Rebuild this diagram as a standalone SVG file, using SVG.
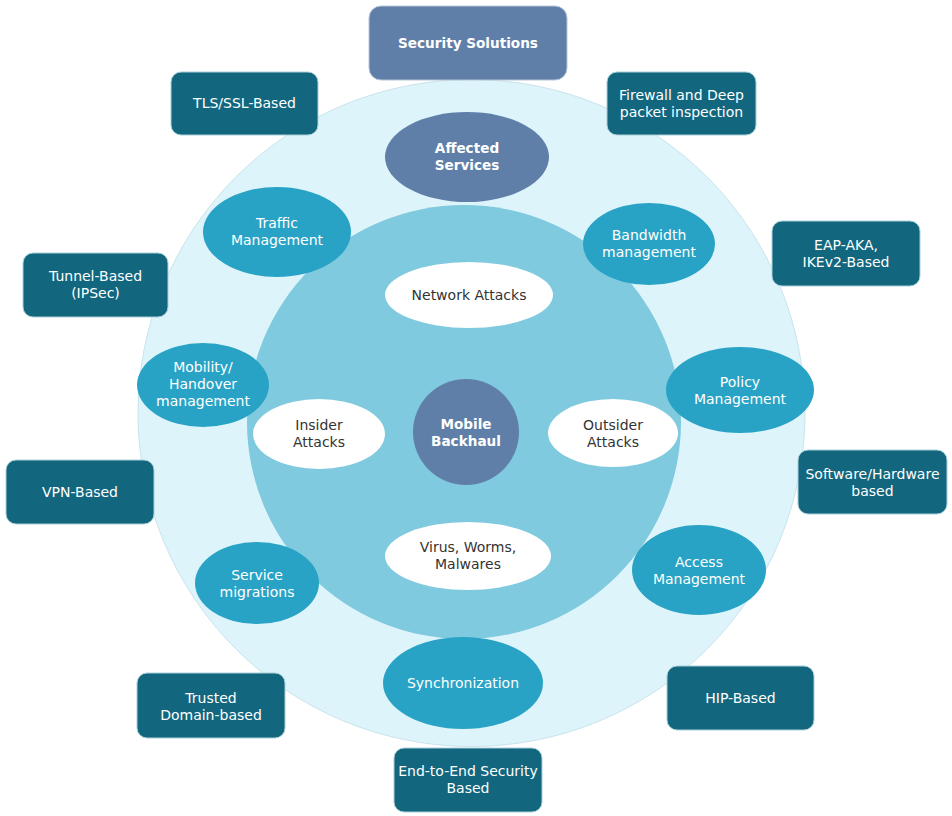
<svg xmlns="http://www.w3.org/2000/svg" width="952" height="816" viewBox="0 0 952 816">
<style>
text{font-family:"DejaVu Sans","Verdana",sans-serif;font-size:14px;text-anchor:middle}
.w{fill:#ffffff}
.d{fill:#333333}
.b{font-weight:bold;font-size:13.6px}
.box{fill:#12677f;stroke:#a9cfd9;stroke-width:1}
.slate{fill:#5f7fa9}
.mid{fill:#29a3c5}
.att{fill:#ffffff}
</style>
<rect width="952" height="816" fill="#ffffff"/>
<g id="rings">
<circle cx="471.5" cy="413" r="333.5" fill="#def4fb" stroke="#c9e3ec" stroke-width="1"/>
<circle cx="464" cy="422" r="217" fill="#7fcade"/>
</g>
<g id="connectors"></g>
<g id="security-solutions"><rect x="369" y="6" width="198" height="74" rx="12" class="slate" stroke="#b7c6d8"/><text x="468" y="48" class="w b">Security Solutions</text></g>
<g id="affected-services"><ellipse cx="467" cy="157" rx="82" ry="45" class="slate"/><text x="467" y="153" class="w b">Affected</text><text x="467" y="170" class="w b">Services</text></g>
<g id="tls"><rect x="171" y="72" width="147" height="63" rx="10" class="box"/><text x="244.5" y="108" class="w">TLS/SSL-Based</text></g>
<g id="firewall"><rect x="607" y="72" width="149" height="63" rx="10" class="box"/><text x="681.5" y="100" class="w">Firewall and Deep</text><text x="681.5" y="117" class="w">packet inspection</text></g>
<g id="traffic"><ellipse cx="277" cy="232" rx="74" ry="45" class="mid"/><text x="277" y="228" class="w">Traffic</text><text x="277" y="245" class="w">Management</text></g>
<g id="bandwidth"><ellipse cx="649" cy="244" rx="66" ry="41" class="mid"/><text x="649" y="240" class="w">Bandwidth</text><text x="649" y="257" class="w">management</text></g>
<g id="eap"><rect x="772" y="221" width="148" height="65" rx="10" class="box"/><text x="846" y="250" class="w">EAP-AKA,</text><text x="846" y="267" class="w">IKEv2-Based</text></g>
<g id="tunnel"><rect x="23" y="253" width="145" height="64" rx="10" class="box"/><text x="95.5" y="281" class="w">Tunnel-Based</text><text x="95.5" y="298" class="w">(IPSec)</text></g>
<g id="network-attacks"><ellipse cx="469" cy="295" rx="84" ry="33" class="att"/><text x="469" y="300" class="d">Network Attacks</text></g>
<g id="mobility"><ellipse cx="203" cy="385" rx="66" ry="42" class="mid"/><text x="203" y="372" class="w">Mobility/</text><text x="203" y="389" class="w">Handover</text><text x="203" y="406" class="w">management</text></g>
<g id="policy"><ellipse cx="740" cy="390" rx="74" ry="43" class="mid"/><text x="740" y="387" class="w">Policy</text><text x="740" y="404" class="w">Management</text></g>
<g id="insider"><ellipse cx="319" cy="434" rx="66" ry="35" class="att"/><text x="319" y="430" class="d">Insider</text><text x="319" y="447" class="d">Attacks</text></g>
<g id="mobile-backhaul"><circle cx="466" cy="432" r="53" class="slate"/><text x="466" y="429" class="w b">Mobile</text><text x="466" y="446" class="w b">Backhaul</text></g>
<g id="outsider"><ellipse cx="613" cy="433" rx="65" ry="34" class="att"/><text x="613" y="430" class="d">Outsider</text><text x="613" y="447" class="d">Attacks</text></g>
<g id="software"><rect x="798" y="450" width="149" height="64" rx="10" class="box"/><text x="872.5" y="479" class="w">Software/Hardware</text><text x="872.5" y="496" class="w">based</text></g>
<g id="vpn"><rect x="6" y="460" width="148" height="64" rx="10" class="box"/><text x="80" y="497" class="w">VPN-Based</text></g>
<g id="virus"><ellipse cx="468" cy="556" rx="83" ry="34" class="att"/><text x="468" y="552" class="d">Virus, Worms,</text><text x="468" y="569" class="d">Malwares</text></g>
<g id="service-migrations"><ellipse cx="257" cy="583" rx="62" ry="41" class="mid"/><text x="257" y="580" class="w">Service</text><text x="257" y="597" class="w">migrations</text></g>
<g id="access"><ellipse cx="699" cy="570" rx="67" ry="45" class="mid"/><text x="699" y="567" class="w">Access</text><text x="699" y="584" class="w">Management</text></g>
<g id="synchronization"><ellipse cx="463" cy="683" rx="80" ry="46" class="mid"/><text x="463" y="688" class="w">Synchronization</text></g>
<g id="trusted"><rect x="137" y="673" width="148" height="65" rx="10" class="box"/><text x="211" y="703" class="w">Trusted</text><text x="211" y="720" class="w">Domain-based</text></g>
<g id="hip"><rect x="667" y="666" width="147" height="64" rx="10" class="box"/><text x="740.5" y="703" class="w">HIP-Based</text></g>
<g id="end-to-end"><rect x="394" y="748" width="148" height="64" rx="10" class="box"/><text x="468" y="776" class="w">End-to-End Security</text><text x="468" y="793" class="w">Based</text></g>
</svg>
